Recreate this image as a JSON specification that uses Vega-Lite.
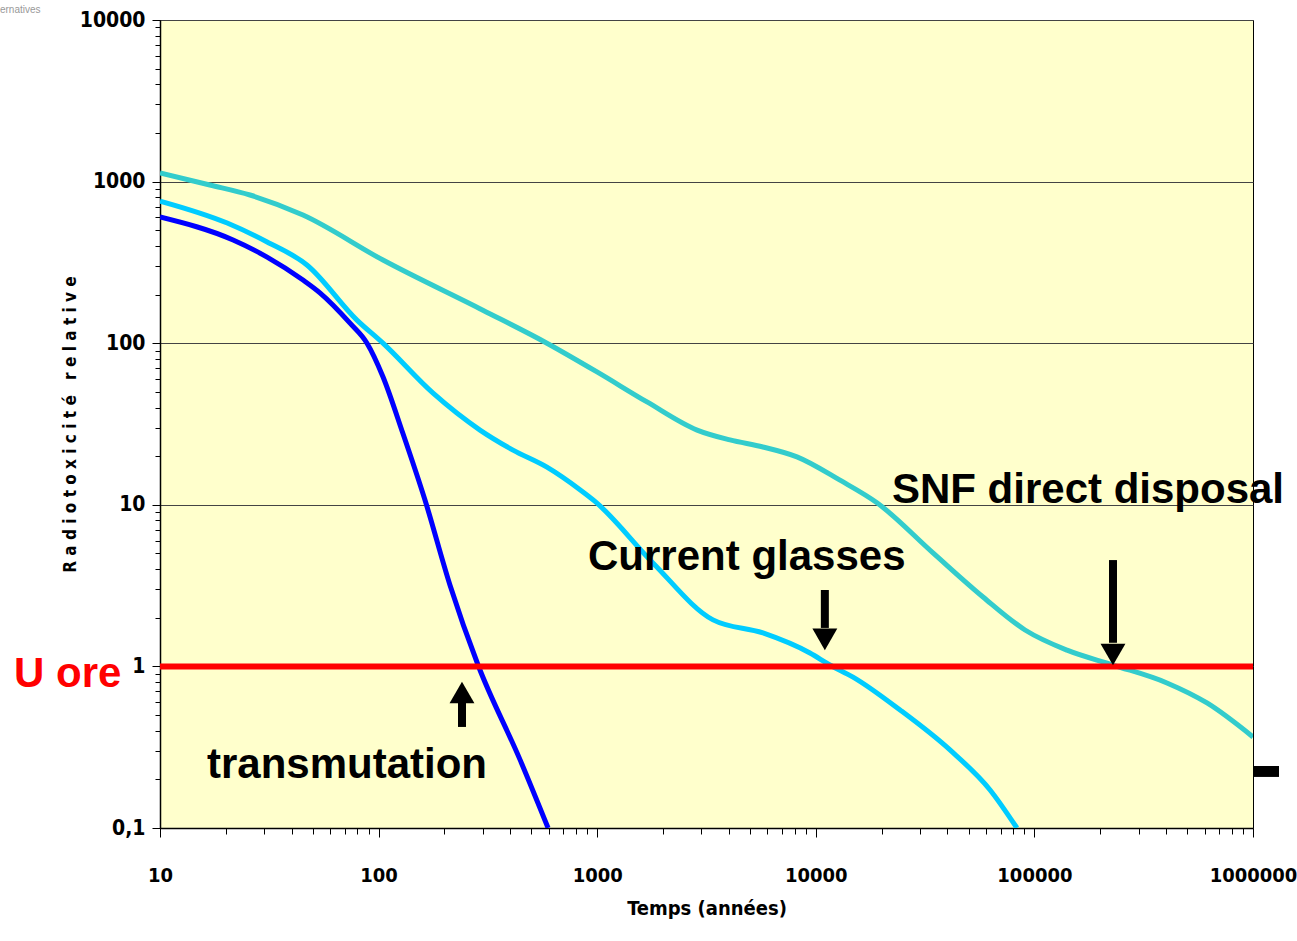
{
  "$schema": "https://vega.github.io/schema/vega-lite/v6.json",
  "width": 1093,
  "height": 808,
  "autosize": {"type": "none"},
  "padding": {"left": 160, "top": 20, "right": 44, "bottom": 113},
  "background": "white",
  "config": {"view": {"fill": "#FFFFCC", "stroke": "black", "strokeWidth": 1}},
  "datasets": {
    "curves": [
      {"s": "SNF direct disposal", "t": 10, "v": 1130},
      {"s": "SNF direct disposal", "t": 16.9, "v": 953},
      {"s": "SNF direct disposal", "t": 25.8, "v": 826},
      {"s": "SNF direct disposal", "t": 45.1, "v": 621},
      {"s": "SNF direct disposal", "t": 104.7, "v": 327},
      {"s": "SNF direct disposal", "t": 300, "v": 160},
      {"s": "SNF direct disposal", "t": 589, "v": 100},
      {"s": "SNF direct disposal", "t": 998, "v": 66.4},
      {"s": "SNF direct disposal", "t": 1690, "v": 43.3},
      {"s": "SNF direct disposal", "t": 2864, "v": 29.0},
      {"s": "SNF direct disposal", "t": 4050, "v": 25.2},
      {"s": "SNF direct disposal", "t": 5730, "v": 22.8},
      {"s": "SNF direct disposal", "t": 8200, "v": 19.8},
      {"s": "SNF direct disposal", "t": 12900, "v": 14.2},
      {"s": "SNF direct disposal", "t": 19040, "v": 10.3},
      {"s": "SNF direct disposal", "t": 34360, "v": 5.04},
      {"s": "SNF direct disposal", "t": 58200, "v": 2.69},
      {"s": "SNF direct disposal", "t": 90600, "v": 1.68},
      {"s": "SNF direct disposal", "t": 141000, "v": 1.26},
      {"s": "SNF direct disposal", "t": 229000, "v": 1.02},
      {"s": "SNF direct disposal", "t": 404000, "v": 0.79},
      {"s": "SNF direct disposal", "t": 616000, "v": 0.594},
      {"s": "SNF direct disposal", "t": 1000000, "v": 0.366},
      {"s": "Current glasses", "t": 10, "v": 758},
      {"s": "Current glasses", "t": 20.3, "v": 554},
      {"s": "Current glasses", "t": 30.9, "v": 423},
      {"s": "Current glasses", "t": 47, "v": 305},
      {"s": "Current glasses", "t": 79.6, "v": 139},
      {"s": "Current glasses", "t": 104.7, "v": 100},
      {"s": "Current glasses", "t": 177, "v": 49.2},
      {"s": "Current glasses", "t": 291, "v": 29.0},
      {"s": "Current glasses", "t": 412, "v": 21.8},
      {"s": "Current glasses", "t": 589, "v": 17.1},
      {"s": "Current glasses", "t": 834, "v": 12.4},
      {"s": "Current glasses", "t": 977, "v": 10.5},
      {"s": "Current glasses", "t": 1799, "v": 4.37},
      {"s": "Current glasses", "t": 3387, "v": 1.94},
      {"s": "Current glasses", "t": 5730, "v": 1.61},
      {"s": "Current glasses", "t": 9400, "v": 1.21},
      {"s": "Current glasses", "t": 11600, "v": 1.02},
      {"s": "Current glasses", "t": 14800, "v": 0.859},
      {"s": "Current glasses", "t": 24300, "v": 0.537},
      {"s": "Current glasses", "t": 41100, "v": 0.304},
      {"s": "Current glasses", "t": 62700, "v": 0.172},
      {"s": "Current glasses", "t": 83200, "v": 0.1},
      {"s": "transmutation", "t": 10, "v": 604},
      {"s": "transmutation", "t": 21.6, "v": 435},
      {"s": "transmutation", "t": 30.9, "v": 341},
      {"s": "transmutation", "t": 45.1, "v": 246},
      {"s": "transmutation", "t": 53.9, "v": 205},
      {"s": "transmutation", "t": 74, "v": 133},
      {"s": "transmutation", "t": 88.5, "v": 100},
      {"s": "transmutation", "t": 104.7, "v": 62},
      {"s": "transmutation", "t": 129, "v": 27.8},
      {"s": "transmutation", "t": 163, "v": 10.7},
      {"s": "transmutation", "t": 212, "v": 3.19},
      {"s": "transmutation", "t": 285, "v": 1.02},
      {"s": "transmutation", "t": 444, "v": 0.264},
      {"s": "transmutation", "t": 596, "v": 0.1}
    ]
  },
  "layer": [
    {
      "data": {"name": "curves"},
      "mark": {"type": "line", "interpolate": "monotone", "strokeWidth": 5, "clip": true},
      "encoding": {
        "x": {
          "field": "t", "type": "quantitative",
          "scale": {"type": "log", "domain": [10, 1000000], "nice": false},
          "axis": {
            "title": "Temps (années)",
            "values": [10,20,30,40,50,60,70,80,90,100,200,300,400,500,600,700,800,900,1000,2000,3000,4000,5000,6000,7000,8000,9000,10000,20000,30000,40000,50000,60000,70000,80000,90000,100000,200000,300000,400000,500000,600000,700000,800000,900000,1000000],
            "labelExpr": "abs(log(datum.value)/LN10 - round(log(datum.value)/LN10)) < 0.001 ? format(datum.value, 'd') : ''",
            "grid": false,
            "domainColor": "black",
            "domainWidth": 1.5,
            "tickColor": "black",
            "tickWidth": 1,
            "tickSize": {"condition": {"test": "abs(log(datum.value)/LN10 - round(log(datum.value)/LN10)) < 0.001", "value": 9}, "value": 6},
            "labelFont": "DejaVu Sans Condensed, Liberation Sans, sans-serif",
            "labelFontWeight": "bold",
            "labelFontSize": 20,
            "labelColor": "black",
            "labelPadding": 28,
            "labelOverlap": false,
            "labelFlush": false,
            "labelBound": false,
            "titleFont": "DejaVu Sans Condensed, Liberation Sans, sans-serif",
            "titleFontWeight": "bold",
            "titleFontSize": 20,
            "titleColor": "black",
            "titleBaseline": "alphabetic",
            "titleY": 86
          }
        },
        "y": {
          "field": "v", "type": "quantitative",
          "scale": {"type": "log", "domain": [0.1, 10000], "nice": false},
          "axis": {
            "title": "R a d i o t o x i c i t é\u2003r e l a t i v e",
            "values": [0.1,0.2,0.3,0.4,0.5,0.6,0.7,0.8,0.9,1,2,3,4,5,6,7,8,9,10,20,30,40,50,60,70,80,90,100,200,300,400,500,600,700,800,900,1000,2000,3000,4000,5000,6000,7000,8000,9000,10000],
            "labelExpr": "abs(log(datum.value)/LN10 - round(log(datum.value)/LN10)) < 0.001 ? (datum.value < 0.5 ? '0,1' : format(datum.value, 'd')) : ''",
            "grid": true,
            "gridColor": "#444444",
            "gridWidth": 1,
            "gridOpacity": {"condition": {"test": "abs(log(datum.value)/LN10 - round(log(datum.value)/LN10)) < 0.001", "value": 1}, "value": 0},
            "domainColor": "black",
            "domainWidth": 1.5,
            "tickColor": "black",
            "tickWidth": 1,
            "tickSize": {"condition": {"test": "abs(log(datum.value)/LN10 - round(log(datum.value)/LN10)) < 0.001", "value": 8}, "value": 5},
            "labelFont": "DejaVu Sans Condensed, Liberation Sans, sans-serif",
            "labelFontWeight": "bold",
            "labelFontSize": 21,
            "labelColor": "black",
            "labelPadding": 7,
            "labelOverlap": false,
            "labelFlush": false,
            "labelBound": false,
            "titleFont": "DejaVu Sans Condensed, Liberation Sans, sans-serif",
            "titleFontWeight": "bold",
            "titleFontSize": 17,
            "titleColor": "black",
            "titleAngle": 270,
            "titleAlign": "center",
            "titleBaseline": "middle",
            "titleX": -90,
            "titleY": 404
          }
        },
        "color": {
          "field": "s", "type": "nominal",
          "scale": {"domain": ["SNF direct disposal", "Current glasses", "transmutation"], "range": ["#33CCCC", "#00CCFF", "#0000FF"]},
          "legend": null
        }
      }
    },
    {
      "data": {"values": [{"t": 10, "v": 1}, {"t": 1000000, "v": 1}]},
      "mark": {"type": "line", "color": "#FF0000", "strokeWidth": 6},
      "encoding": {"x": {"field": "t", "type": "quantitative"}, "y": {"field": "v", "type": "quantitative"}}
    },
    {
      "data": {"values": [
        {"t": 11000, "v": 2.97, "v2": 1.73},
        {"t": 228800, "v": 4.55, "v2": 1.40},
        {"t": 240.7, "v": 0.422, "v2": 0.594}
      ]},
      "mark": {"type": "rule", "color": "black", "strokeWidth": 8},
      "encoding": {"x": {"field": "t", "type": "quantitative"}, "y": {"field": "v", "type": "quantitative"}, "y2": {"field": "v2"}}
    },
    {
      "data": {"values": [
        {"t": 11000, "v": 1.47},
        {"t": 228800, "v": 1.186}
      ]},
      "mark": {"type": "point", "shape": "triangle-down", "filled": true, "color": "black", "size": 620, "opacity": 1},
      "encoding": {"x": {"field": "t", "type": "quantitative"}, "y": {"field": "v", "type": "quantitative"}}
    },
    {
      "data": {"values": [
        {"t": 240.7, "v": 0.689}
      ]},
      "mark": {"type": "point", "shape": "triangle-up", "filled": true, "color": "black", "size": 620, "opacity": 1},
      "encoding": {"x": {"field": "t", "type": "quantitative"}, "y": {"field": "v", "type": "quantitative"}}
    },
    {
      "data": {"values": [
        {"t": 22300, "v": 10.26, "label": "SNF direct disposal"},
        {"t": 908, "v": 3.95, "label": "Current glasses"},
        {"t": 16.4, "v": 0.204, "label": "transmutation"}
      ]},
      "mark": {"type": "text", "align": "left", "baseline": "alphabetic", "font": "Liberation Sans", "fontWeight": "bold", "fontSize": 42, "color": "black"},
      "encoding": {"x": {"field": "t", "type": "quantitative"}, "y": {"field": "v", "type": "quantitative"}, "text": {"field": "label"}}
    },
    {
      "data": {"values": [{"t": 2.15, "v": 0.745, "label": "U ore"}]},
      "mark": {"type": "text", "align": "left", "baseline": "alphabetic", "font": "Liberation Sans", "fontWeight": "bold", "fontSize": 42, "color": "#FF0000"},
      "encoding": {"x": {"field": "t", "type": "quantitative"}, "y": {"field": "v", "type": "quantitative"}, "text": {"field": "label"}}
    },
    {
      "data": {"values": [{"t": 1000000, "t2": 1315000, "v": 0.242, "v2": 0.207}]},
      "mark": {"type": "rect", "color": "black", "clip": false},
      "encoding": {"x": {"field": "t", "type": "quantitative"}, "x2": {"field": "t2"}, "y": {"field": "v", "type": "quantitative"}, "y2": {"field": "v2"}}
    },
    {
      "data": {"values": [{"t": 1.853, "v": 11050, "label": "ernatives"}]},
      "mark": {"type": "text", "align": "left", "baseline": "alphabetic", "font": "Liberation Sans", "fontSize": 10, "color": "#999999"},
      "encoding": {"x": {"field": "t", "type": "quantitative"}, "y": {"field": "v", "type": "quantitative"}, "text": {"field": "label"}}
    }
  ]
}
